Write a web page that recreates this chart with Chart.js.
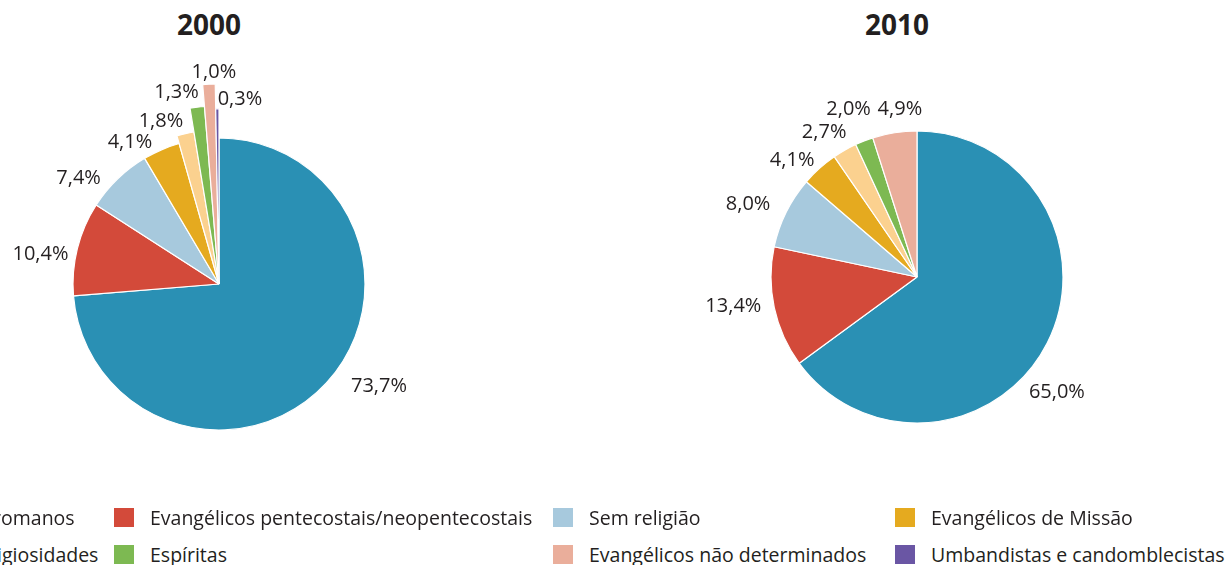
<!DOCTYPE html>
<html lang="pt-BR">
<head>
<meta charset="utf-8">
<title>Religião 2000 / 2010</title>
<script src="https://cdn.jsdelivr.net/npm/chart.js@4.4.1/dist/chart.umd.min.js"></script>
<style>
  html, body { margin: 0; padding: 0; background: #fff; }
  body { width: 1226px; height: 565px; position: relative; overflow: hidden; font-family: 'Open Sans', sans-serif; color: #231f20; }
  .titulo { position: absolute; top: 5px; width: 200px; text-align: center; font-weight: 700; font-size: 28px; line-height: 38px; margin: 0; }
  .pie { position: absolute; width: 440px; height: 500px; }
  .leg { position: absolute; display: flex; align-items: center; font-size: 19.5px; white-space: nowrap; height: 24px; }
  .leg span.box { display: inline-block; width: 20px; height: 19px; margin-right: 16px; }
</style>
</head>
<body>
<h2 class="titulo" style="left:109px">2000</h2>
<h2 class="titulo" style="left:797px">2010</h2>
<canvas id="pie2000" class="pie" style="left:-1px; top:34px"></canvas>
<canvas id="pie2010" class="pie" style="left:697px; top:27px"></canvas>
<div id="legenda"></div>

<script>
// categorias (ordem das fatias e da legenda)
const categorias = [
    'Católicos romanos',
    'Evangélicos pentecostais/neopentecostais',
    'Sem religião',
    'Evangélicos de Missão',
    'Outras religiosidades',
    'Espíritas',
    'Evangélicos não determinados',
    'Umbandistas e candomblecistas'
];
const valores2000 = [73.7, 10.4, 7.4, 4.1, 1.8, 1.3, 1.0, 0.3];
const valores2010 = [65.0, 13.4, 8.0, 4.1, 2.7, 2.0, 4.9];

const cores = ['#2a90b4', '#d34a3a', '#a7c9dd', '#e5aa1f', '#fbd18f', '#7db952', '#eaae9b', '#6a56a4'];

// estilo: alongamento das fatias pequenas de 2000 e ajustes dos rótulos
const escalaRaio2000 = [1, 1, 1, 1, 1.055, 1.22, 1.37, 1.2];
const ajusteRotulo2000 = [[-10, 44], [-4.5, 35], [-9, 30], [-9, 21], [-7, 19], [-5.5, 18], [1.5, 12], [7, 11]];
const escalaRaio2010 = [1, 1, 1, 1, 1, 1, 1];
const ajusteRotulo2010 = [[12.5, 35], [3, 40], [-3, 38], [-5, 25], [-3, 26], [-1, 35], [3, 23]];

const fmt = v => v.toFixed(1).replace('.', ',') + '%';

const fatiasRotulos = {
    id: 'fatiasRotulos',
    afterDatasetsUpdate(chart, args, opts) {
        const meta = chart.getDatasetMeta(0);
        meta.data.forEach((arc, i) => {
            arc.outerRadius = arc.outerRadius * (opts.escala[i] || 1);
        });
    },
    afterDatasetsDraw(chart, args, opts) {
        const ctx = chart.ctx;
        const meta = chart.getDatasetMeta(0);
        const data = chart.data.datasets[0].data;
        ctx.save();
        ctx.font = '20px "Open Sans"';
        ctx.fillStyle = '#231f20';
        ctx.textAlign = 'center';
        ctx.textBaseline = 'middle';
        meta.data.forEach((arc, i) => {
            const [dAng, gap] = opts.ajuste[i];
            const mid = (arc.startAngle + arc.endAngle) / 2 + dAng * Math.PI / 180;
            const r = arc.outerRadius + gap;
            ctx.fillText(fmt(data[i]), arc.x + r * Math.cos(mid), arc.y + r * Math.sin(mid));
        });
        ctx.restore();
    }
};

function desenhaPizza(id, valores, escala, ajuste) {
    const ctx = document.getElementById(id).getContext('2d');
    return new Chart(ctx, {
        type: 'pie',
        data: {
            labels: categorias.slice(0, valores.length),
            datasets: [{
                data: valores,
                backgroundColor: cores.slice(0, valores.length),
                borderColor: '#ffffff',
                borderWidth: 1.2
            }]
        },
        options: {
            responsive: false,
            animation: false,
            radius: 146,
            layout: { padding: 0 },
            plugins: {
                legend: { display: false },
                tooltip: { enabled: false },
                fatiasRotulos: { escala, ajuste }
            }
        },
        plugins: [fatiasRotulos]
    });
}

['pie2000', 'pie2010'].forEach(id => {
    const c = document.getElementById(id);
    c.width = 440;
    c.height = 500;
});

desenhaPizza('pie2000', valores2000, escalaRaio2000, ajusteRotulo2000);
desenhaPizza('pie2010', valores2010, escalaRaio2010, ajusteRotulo2010);

// legenda em 4 colunas x 2 linhas
const colunasX = [-130, 114, 553, 895];
const linhasY = [505, 542];
const legenda = document.getElementById('legenda');
categorias.forEach((nome, i) => {
    const item = document.createElement('div');
    item.className = 'leg';
    item.style.left = colunasX[i % 4] + 'px';
    item.style.top = linhasY[Math.floor(i / 4)] + 'px';
    item.innerHTML = `<span class="box" style="background:${cores[i]}"></span>${nome}`;
    legenda.appendChild(item);
});
</script>
</body>
</html>
